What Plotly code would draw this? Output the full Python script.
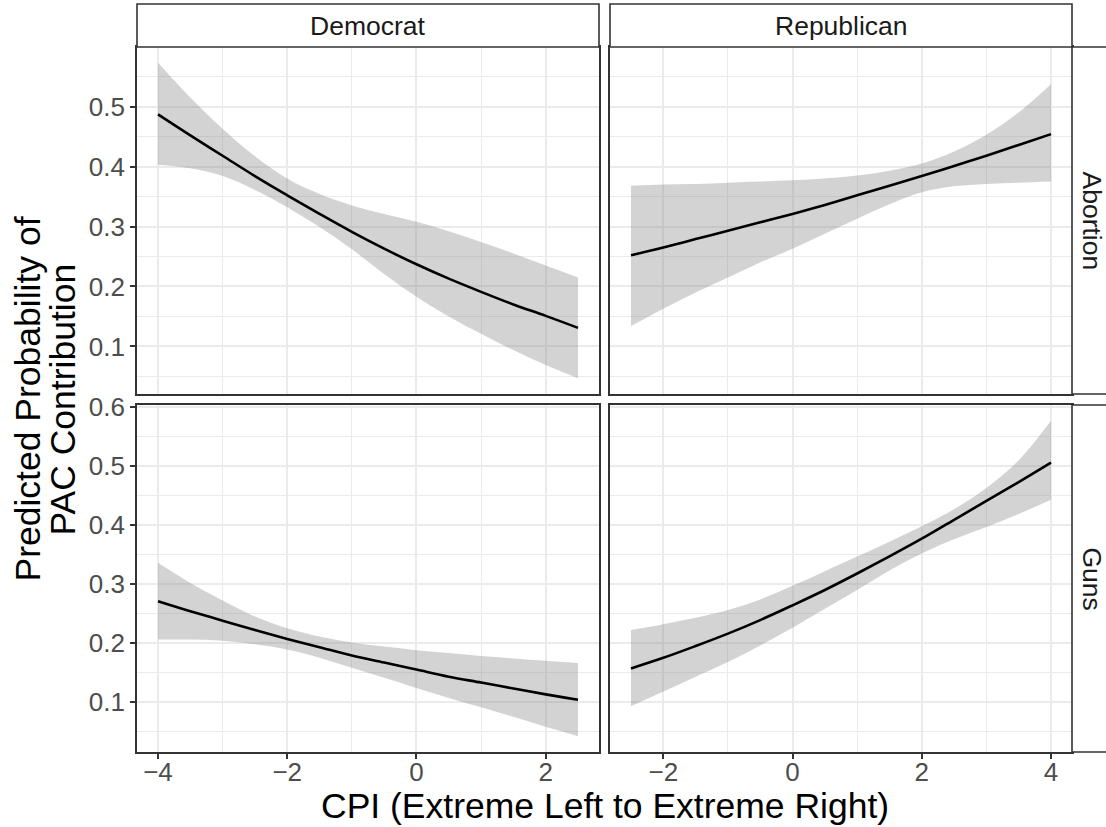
import plotly.graph_objects as go

# Predicted probability of PAC contribution by CPI, faceted by party (columns) and issue (rows)
dem_x = [-4, -3.5, -3, -2.5, -2, -1.5, -1, -0.5, 0, 0.5, 1, 1.5, 2, 2.5]
rep_x = [-2.5, -2, -1.5, -1, -0.5, 0, 0.5, 1, 1.5, 2, 2.5, 3, 3.5, 4]

dem_abortion_fit = [0.487, 0.452, 0.418, 0.384, 0.352, 0.321, 0.291, 0.263, 0.237, 0.213, 0.191, 0.170, 0.151, 0.131]
dem_abortion_hi = [0.573, 0.515, 0.463, 0.417, 0.380, 0.354, 0.335, 0.321, 0.308, 0.292, 0.274, 0.255, 0.235, 0.215]
dem_abortion_lo = [0.403, 0.397, 0.384, 0.361, 0.332, 0.299, 0.262, 0.221, 0.183, 0.150, 0.121, 0.094, 0.069, 0.047]

rep_abortion_fit = [0.252, 0.265, 0.279, 0.293, 0.307, 0.321, 0.336, 0.352, 0.368, 0.384, 0.401, 0.418, 0.436, 0.454]
rep_abortion_hi = [0.368, 0.370, 0.371, 0.373, 0.375, 0.377, 0.380, 0.385, 0.393, 0.405, 0.425, 0.453, 0.490, 0.537]
rep_abortion_lo = [0.134, 0.163, 0.190, 0.215, 0.240, 0.263, 0.288, 0.313, 0.337, 0.357, 0.367, 0.371, 0.373, 0.375]

dem_guns_fit = [0.271, 0.254, 0.238, 0.222, 0.207, 0.193, 0.179, 0.167, 0.155, 0.143, 0.133, 0.123, 0.113, 0.104]
dem_guns_hi = [0.336, 0.302, 0.272, 0.245, 0.225, 0.211, 0.201, 0.194, 0.188, 0.183, 0.178, 0.174, 0.170, 0.166]
dem_guns_lo = [0.206, 0.206, 0.204, 0.198, 0.189, 0.175, 0.158, 0.141, 0.124, 0.107, 0.091, 0.075, 0.058, 0.042]

rep_guns_fit = [0.157, 0.175, 0.195, 0.216, 0.239, 0.264, 0.290, 0.318, 0.347, 0.377, 0.409, 0.441, 0.473, 0.506]
rep_guns_hi = [0.222, 0.232, 0.243, 0.256, 0.274, 0.297, 0.322, 0.347, 0.372, 0.398, 0.427, 0.463, 0.510, 0.577]
rep_guns_lo = [0.093, 0.118, 0.143, 0.168, 0.196, 0.226, 0.258, 0.290, 0.323, 0.352, 0.376, 0.397, 0.419, 0.443]

parties = ["Democrat", "Republican"]
issues = ["Abortion", "Guns"]

W, H = 1106, 827
FONT = "Liberation Sans, Arial, Helvetica, sans-serif"
BORDER = "#333333"
GRID = "#EBEBEB"

# panel pixel geometry
col_px = [(137, 599), (610, 1072)]
row_px = [(47, 394), (405, 752)]
strip_top = 4


def px_x(p):
    return p / W


def px_y(p):
    return 1 - p / H


def expand(vals):
    lo, hi = min(vals), max(vals)
    pad = 0.05 * (hi - lo)
    return [lo - pad, hi + pad]


panels = [
    # (row, col, x, fit, lo, hi)
    (0, 0, dem_x, dem_abortion_fit, dem_abortion_lo, dem_abortion_hi),
    (0, 1, rep_x, rep_abortion_fit, rep_abortion_lo, rep_abortion_hi),
    (1, 0, dem_x, dem_guns_fit, dem_guns_lo, dem_guns_hi),
    (1, 1, rep_x, rep_guns_fit, rep_guns_lo, rep_guns_hi),
]

x_ranges = [expand(dem_x), expand(rep_x)]
y_ranges = [
    expand(dem_abortion_lo + dem_abortion_hi + rep_abortion_lo + rep_abortion_hi),
    expand(dem_guns_lo + dem_guns_hi + rep_guns_lo + rep_guns_hi),
]

fig = go.Figure()
layout = dict(
    width=W, height=H, autosize=False,
    margin=dict(l=0, r=0, t=0, b=0, pad=0),
    paper_bgcolor="white", plot_bgcolor="white",
    showlegend=False,
    font=dict(family=FONT, color="#4D4D4D", size=26),
)

tick_font = dict(family=FONT, size=26, color="#4D4D4D")

for i, (r, c, xs, fit, lo, hi) in enumerate(panels):
    n = i + 1
    xa = "x" if n == 1 else f"x{n}"
    ya = "y" if n == 1 else f"y{n}"
    # confidence band: lower edge, then upper edge filled down to it
    fig.add_trace(go.Scatter(
        x=xs, y=lo, mode="lines", line=dict(width=0, shape="spline", color="rgba(0,0,0,0)"),
        hoverinfo="skip", xaxis=xa, yaxis=ya,
    ))
    fig.add_trace(go.Scatter(
        x=xs, y=hi, mode="lines", fill="tonexty", fillcolor="rgba(128,128,128,0.35)",
        line=dict(width=0, shape="spline", color="rgba(0,0,0,0)"),
        hoverinfo="skip", xaxis=xa, yaxis=ya,
    ))
    fig.add_trace(go.Scatter(
        x=xs, y=fit, mode="lines", line=dict(color="black", width=2.6, shape="spline"),
        xaxis=xa, yaxis=ya,
    ))

    x0, x1 = col_px[c]
    y0, y1 = row_px[r]
    show_x = r == 1
    show_y = c == 0
    layout["xaxis" if n == 1 else f"xaxis{n}"] = dict(
        domain=[px_x(x0), px_x(x1)], range=x_ranges[c], automargin=False,
        anchor=ya, tick0=0, dtick=2,
        showgrid=True, gridcolor=GRID, gridwidth=1.6,
        minor=dict(tick0=0, dtick=1, showgrid=True, gridcolor=GRID, gridwidth=0.9),
        zeroline=False, showline=True, mirror=True, linecolor=BORDER, linewidth=1.6,
        ticks="outside" if show_x else "", ticklen=5, tickwidth=1.5, tickcolor=BORDER,
        showticklabels=show_x, tickfont=tick_font, ticklabelstandoff=-9,
    )
    layout["yaxis" if n == 1 else f"yaxis{n}"] = dict(
        domain=[px_y(y1), px_y(y0)], range=y_ranges[r], automargin=False,
        anchor=xa, tick0=0, dtick=0.1, tickformat=".1f",
        showgrid=True, gridcolor=GRID, gridwidth=1.6,
        minor=dict(tick0=0, dtick=0.05, showgrid=True, gridcolor=GRID, gridwidth=0.9),
        zeroline=False, showline=True, mirror=True, linecolor=BORDER, linewidth=1.6,
        ticks="outside" if show_y else "", ticklen=5, tickwidth=1.5, tickcolor=BORDER,
        showticklabels=show_y, tickfont=tick_font,
    )

shapes = []
annotations = []
strip_font = dict(family=FONT, size=26.5, color="#1A1A1A")

# column strips along the top
for c, name in enumerate(parties):
    x0, x1 = col_px[c]
    shapes.append(dict(type="rect", xref="paper", yref="paper",
                       x0=px_x(x0), x1=px_x(x1), y0=px_y(row_px[0][0]), y1=px_y(strip_top),
                       line=dict(color=BORDER, width=1.6), fillcolor="white", layer="above"))
    annotations.append(dict(text=name, xref="paper", yref="paper",
                            x=px_x((x0 + x1) / 2), y=px_y((strip_top + row_px[0][0]) / 2),
                            showarrow=False, font=strip_font, xanchor="center", yanchor="middle"))

# row strips along the right side
for r, name in enumerate(issues):
    y0, y1 = row_px[r]
    shapes.append(dict(type="rect", xref="paper", yref="paper",
                       x0=px_x(col_px[1][1]), x1=px_x(col_px[1][1] + 44), y0=px_y(y1), y1=px_y(y0),
                       line=dict(color=BORDER, width=1.6), fillcolor="white", layer="above"))
    annotations.append(dict(text=name, xref="paper", yref="paper",
                            x=px_x(1092), y=px_y((y0 + y1) / 2), textangle=90,
                            showarrow=False, font=strip_font, xanchor="center", yanchor="middle"))

title_font = dict(family=FONT, size=35.5, color="black")
annotations.append(dict(text="CPI (Extreme Left to Extreme Right)", xref="paper", yref="paper",
                        x=px_x((col_px[0][0] + col_px[1][1]) / 2), y=px_y(806),
                        showarrow=False, font=title_font, xanchor="center", yanchor="middle"))
mid_y = px_y((row_px[0][0] + row_px[1][1]) / 2)
annotations.append(dict(text="Predicted Probability of", xref="paper", yref="paper",
                        x=px_x(27), y=mid_y, textangle=-90,
                        showarrow=False, font=title_font, xanchor="center", yanchor="middle"))
annotations.append(dict(text="PAC Contribution", xref="paper", yref="paper",
                        x=px_x(62), y=mid_y, textangle=-90,
                        showarrow=False, font=title_font, xanchor="center", yanchor="middle"))

layout["shapes"] = shapes
layout["annotations"] = annotations
fig.update_layout(**layout)

fig.write_html("out.html")
